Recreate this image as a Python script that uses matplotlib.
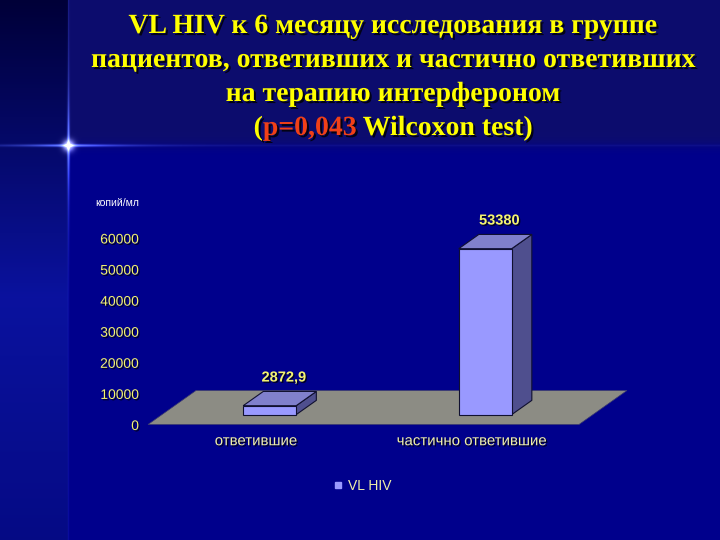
import numpy as np
import matplotlib
matplotlib.use('Agg')
import matplotlib.pyplot as plt
from matplotlib.patches import Polygon
from matplotlib.lines import Line2D
import matplotlib.patheffects as pe

# ---------------- data ----------------
categories = ['ответившие', 'частично ответившие']
values = [2872.9, 53380]
value_labels = ['2872,9', '53380']
yticks = [0, 10000, 20000, 30000, 40000, 50000, 60000]
ytick_labels = ['0', '10000', '20000', '30000', '40000', '50000', '60000']
series_name = 'VL HIV'
y_unit = 'копий/мл'
title_lines = ['VL HIV к 6 месяцу исследования в группе',
               'пациентов, ответивших и частично ответивших',
               'на терапию интерфероном']
title_last = [('(', 'yellow'), ('p=0,043', 'red'), (' Wilcoxon test)', 'yellow')]

# ---------------- style ----------------
W, H = 720, 540
YEL = '#ffff00'
RED = '#f04018'
LBL = '#f4f470'
CAT = '#f0f0a8'
FRONT = '#9999ff'
TOP = '#8080cc'
SIDE = '#4f4f8e'
FLOOR = '#8c8c84'
SANS = 'Liberation Sans'
SERIF = 'Liberation Serif'

fig = plt.figure(figsize=(W / 100, H / 100), dpi=100)

# ---------------- background ----------------
bg = fig.add_axes([0, 0, 1, 1])
bg.axis('off')
yy, xx = np.mgrid[0:H, 0:W].astype(float)
c_main = np.array([0.0, 0.0, 0.55])
c_band = np.array([0.05, 0.05, 0.43])
wband = (1 / (1 + np.exp((yy - 145) / 3.0)))[..., None]
img = c_band * wband + c_main * (1 - wband)
# left strip
s = yy / H
l_top = np.array([0.0, 0.0, 0.22])
l_mid = np.array([0.04, 0.07, 0.62])
l_bot = np.array([0.02, 0.04, 0.52])
k1 = np.clip(s / 0.55, 0, 1)[..., None]
k2 = np.clip((s - 0.55) / 0.45, 0, 1)[..., None]
left = np.where((s < 0.55)[..., None], l_top + k1 * (l_mid - l_top), l_mid + k2 * (l_bot - l_mid))
mask = (xx < 68)[..., None]
img = np.where(mask, left, img)
# glow cross
gx, gy = 68.0, 145.0
vert = np.exp(-((xx - gx) / 1.3) ** 2) * np.exp(-np.abs(yy - gy) / 35.0)
horz = np.exp(-((yy - gy) / 1.3) ** 2) * np.exp(-np.abs(xx - gx) / 40.0)
bloom = np.exp(-((xx - gx) ** 2 + (yy - gy) ** 2) / (2 * 4.0 ** 2))
faint_h = np.exp(-((yy - gy) / 1.0) ** 2) * 0.06 * (xx > gx)
faint_v = np.exp(-((xx - gx) / 0.8) ** 2) * 0.08
glow = vert + horz + faint_h + faint_v
img = img + glow[..., None] * np.array([0.45, 0.55, 0.9]) + bloom[..., None] * np.array([0.9, 0.9, 0.9])
bg.imshow(np.clip(img, 0, 1), extent=[0, W, H, 0], aspect='auto', interpolation='bilinear')
bg.set_xlim(0, W)
bg.set_ylim(H, 0)

# ---------------- chart axes ----------------
ax = fig.add_axes([148 / W, (H - 424.5) / H, 431 / W, 186.5 / H])
ax.set_xlim(-0.5, 1.5)
ax.set_ylim(0, 60000)
ax.patch.set_alpha(0)
for sp in ax.spines.values():
    sp.set_visible(False)

px_per_x = 431 / 2.0
px_per_y = 186.5 / 60000
ddx = 48 / px_per_x      # full floor depth in x units
ddy = 34 / px_per_y      # full floor depth in y units
f1, f2 = 0.29, 0.71      # bar front/back depth fractions
bw = 53 / px_per_x

# floor
floor = Polygon([(-0.5, 0), (1.5, 0), (1.5 + ddx, ddy), (-0.5 + ddx, ddy)],
                closed=True, facecolor=FLOOR, edgecolor='#3a3a70', lw=0.5, clip_on=False, zorder=1)
ax.add_patch(floor)

shadow = [pe.SimplePatchShadow(offset=(1, -1), shadow_rgbFace='black', alpha=0.7), pe.Normal()]

xpos = np.arange(len(categories))
for i, v in enumerate(values):
    x0 = xpos[i] - bw / 2 + f1 * ddx
    x1 = x0 + bw
    b = f1 * ddy
    dxb = (f2 - f1) * ddx
    dyb = (f2 - f1) * ddy
    side = Polygon([(x1, b), (x1 + dxb, b + dyb), (x1 + dxb, b + v + dyb), (x1, b + v)],
                   closed=True, facecolor=SIDE, edgecolor='#101030', lw=0.8, clip_on=False, zorder=2)
    top = Polygon([(x0, b + v), (x1, b + v), (x1 + dxb, b + v + dyb), (x0 + dxb, b + v + dyb)],
                  closed=True, facecolor=TOP, edgecolor='#101030', lw=0.8, clip_on=False, zorder=2)
    front = Polygon([(x0, b), (x1, b), (x1, b + v), (x0, b + v)],
                    closed=True, facecolor=FRONT, edgecolor='#101030', lw=0.8, clip_on=False, zorder=3)
    for p in (side, top, front):
        ax.add_patch(p)
    cx = (x0 + x1) / 2 + dxb / 2
    ax.annotate(value_labels[i], xy=(cx, b + v + dyb), xytext=(3, 10), textcoords='offset points',
                ha='center', va='center', fontsize=10.5, fontweight='bold', family=SANS,
                color=LBL, path_effects=shadow, annotation_clip=False, zorder=5)

ax.set_yticks(yticks)
ax.set_yticklabels(ytick_labels)
ax.set_xticks(xpos)
ax.set_xticklabels(categories)
ax.tick_params(axis='y', length=0, pad=6.5, labelsize=10, labelcolor=LBL)
ax.tick_params(axis='x', length=0, pad=7, labelsize=10.8, labelcolor=CAT)
for lab in ax.get_yticklabels() + ax.get_xticklabels():
    lab.set_family(SANS)
    lab.set_path_effects(shadow)

fig.text(95 / W, 1 - 202.5 / H, y_unit, ha='left', va='center', fontsize=7.5,
         family=SANS, color='white')

leg = ax.legend(handles=[Line2D([], [], marker='s', ls='none', color=FRONT, markersize=5)],
                labels=[series_name], loc='center', bbox_to_anchor=(362 / W, 1 - 485.5 / H),
                bbox_transform=fig.transFigure, frameon=False, fontsize=10,
                handletextpad=0.3, handlelength=0.8, labelcolor=CAT)
for txt in leg.get_texts():
    txt.set_family(SANS)

# ---------------- title ----------------
tshadow = [pe.SimplePatchShadow(offset=(1.5, -1.5), shadow_rgbFace='black', alpha=0.8), pe.Normal()]
tkw = dict(fontsize=20, family=SERIF, fontweight='bold', va='baseline', path_effects=tshadow)
cxt = 393 / W
baselines = [33, 67, 101, 135]
for line, bl in zip(title_lines, baselines):
    fig.text(cxt, 1 - bl / H, line, ha='center', color=YEL, **tkw)

renderer = fig.canvas.get_renderer()
pieces = []
for s_, col in title_last:
    tt = fig.text(0, 1 - baselines[3] / H, s_, ha='left', color=(RED if col == 'red' else YEL), **tkw)
    pieces.append(tt)
widths = [p.get_window_extent(renderer).width for p in pieces]
total = sum(widths)
xstart = 393 - total / 2
for p, w in zip(pieces, widths):
    p.set_x(xstart / W)
    xstart += w

fig.savefig('out.png', dpi=100)
